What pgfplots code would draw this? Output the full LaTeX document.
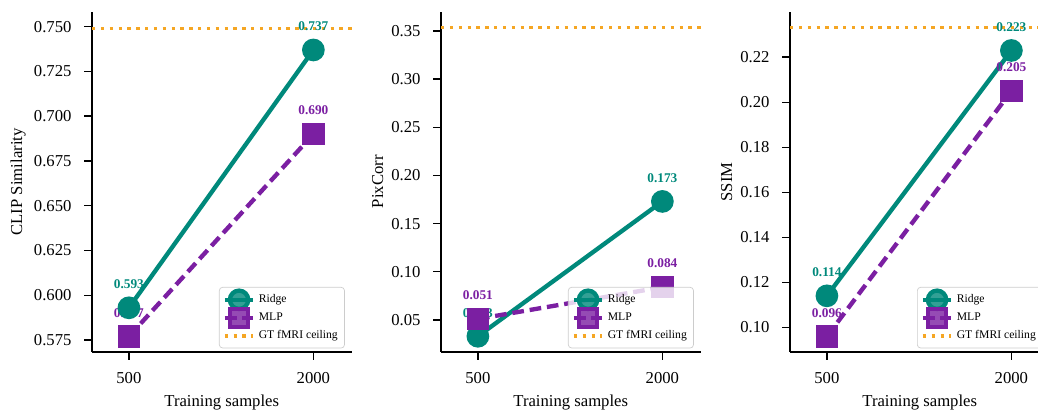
\documentclass[border=0pt]{standalone}
\usepackage{fontspec}
\setmainfont{Liberation Serif}
\usepackage{pgfplots}
\pgfplotsset{compat=1.18}
\definecolor{ridgec}{HTML}{00897B}
\definecolor{mlpc}{HTML}{7B1FA2}
\definecolor{ceilc}{HTML}{F5A623}

\pgfplotsset{
  panel/.style={
    scale only axis, width=155.7pt, height=203.8pt,
    axis lines=left, axis line style={-, line width=1pt},
    tick align=outside, major tick length=4.8pt, tick style={black, line width=0.9pt},
    xmin=200, xmax=2310, xtick={500,2000},
    xticklabels={500,2000},
    xlabel={Training samples},
    label style={font=\fontsize{10}{12}\selectfont},
    ticklabel style={font=\fontsize{10}{12}\selectfont},
    xticklabel style={yshift=-4pt},
    yticklabel style={xshift=-4pt},
    ylabel shift=-2pt,
    /pgf/number format/assume math mode=true,
    legend style={at={(1,0)}, anchor=south east, xshift=-4pt, yshift=2pt,
      font=\fontsize{7}{8}\selectfont, draw=black!20, rounded corners=2pt,
      fill=white, fill opacity=0.8, text opacity=1, row sep=0pt, inner sep=2pt},
    legend cell align=left,
    clip=false,
  },
  ridge/.style={color=ridgec, line width=2.6pt, mark=*, mark size=5.5pt, mark options={solid}},
  mlp/.style={color=mlpc, line width=2.6pt, dash pattern=on 7pt off 3.5pt, mark=square*, mark size=5.5pt, mark options={solid}},
  ceilst/.style={color=ceilc, line width=2pt, dash pattern=on 2pt off 3.3pt},
  lab/.style={draw=none, mark=none, nodes near coords, point meta=explicit symbolic,
    every node near coord/.append style={anchor=base, yshift=11.5pt, inner sep=0pt,
      font=\fontsize{8}{9}\selectfont\bfseries, text=#1}},
}

\begin{document}
\begin{tikzpicture}
% Panel 1
\begin{axis}[panel, at={(55.2pt,35pt)}, anchor=south west,
  ymin=0.5685, ymax=0.7582,
  ytick={0.575,0.6,0.625,0.65,0.675,0.7,0.725,0.75},
  yticklabel style={/pgf/number format/.cd, fixed, fixed zerofill, precision=3},
  ylabel={CLIP Similarity}]
\addplot[ceilst, forget plot] coordinates {(200,0.749) (2310,0.749)};
\addplot[lab=ridgec, forget plot] coordinates {(500,0.593) [0.593] (2000,0.737) [0.737]};
\addplot[lab=mlpc, forget plot] coordinates {(500,0.577) [0.577] (2000,0.690) [0.690]};
\addplot[ridge] coordinates {(500,0.593) (2000,0.737)};
\addlegendentry{Ridge}
\addplot[mlp] coordinates {(500,0.577) (2000,0.690)};
\addlegendentry{MLP}
\addlegendimage{ceilst}
\addlegendentry{GT fMRI ceiling}
\end{axis}
% Panel 2
\begin{axis}[panel, at={(264.6pt,35pt)}, anchor=south west,
  ymin=0.017, ymax=0.3697,
  ytick={0.05,0.1,0.15,0.2,0.25,0.3,0.35},
  yticklabel style={/pgf/number format/.cd, fixed, fixed zerofill, precision=2},
  ylabel={PixCorr}]
\addplot[ceilst, forget plot] coordinates {(200,0.3534) (2310,0.3534)};
\addplot[lab=ridgec, forget plot] coordinates {(500,0.033) [0.033] (2000,0.173) [0.173]};
\addplot[lab=mlpc, forget plot] coordinates {(500,0.051) [0.051] (2000,0.084) [0.084]};
\addplot[ridge] coordinates {(500,0.033) (2000,0.173)};
\addlegendentry{Ridge}
\addplot[mlp] coordinates {(500,0.051) (2000,0.084)};
\addlegendentry{MLP}
\addlegendimage{ceilst}
\addlegendentry{GT fMRI ceiling}
\end{axis}
% Panel 3
\begin{axis}[panel, at={(474pt,35pt)}, anchor=south west,
  ymin=0.0892, ymax=0.2401,
  ytick={0.1,0.12,0.14,0.16,0.18,0.2,0.22},
  yticklabel style={/pgf/number format/.cd, fixed, fixed zerofill, precision=2},
  ylabel={SSIM}]
\addplot[ceilst, forget plot] coordinates {(200,0.2331) (2310,0.2331)};
\addplot[lab=ridgec, forget plot] coordinates {(500,0.114) [0.114] (2000,0.223) [0.223]};
\addplot[lab=mlpc, forget plot] coordinates {(500,0.096) [0.096] (2000,0.205) [0.205]};
\addplot[ridge] coordinates {(500,0.114) (2000,0.223)};
\addlegendentry{Ridge}
\addplot[mlp] coordinates {(500,0.096) (2000,0.205)};
\addlegendentry{MLP}
\addlegendimage{ceilst}
\addlegendentry{GT fMRI ceiling}
\end{axis}
\pgfresetboundingbox
\path[use as bounding box] (0,0) rectangle (622.8pt,246pt);
\end{tikzpicture}
\end{document}
